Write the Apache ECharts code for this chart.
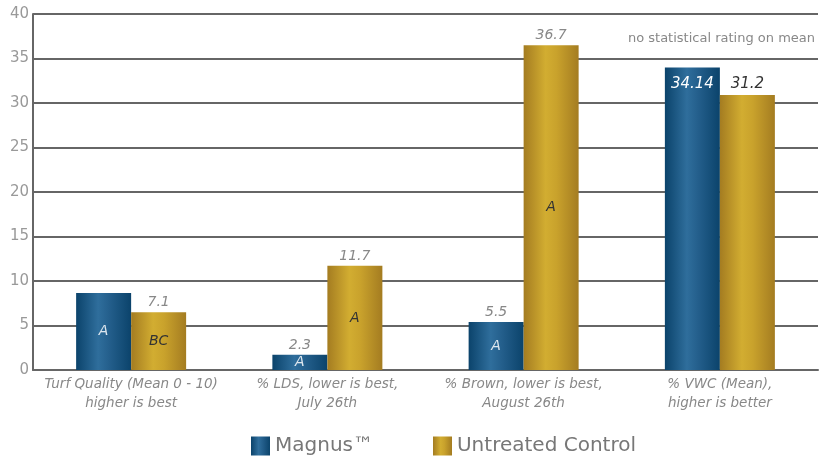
<!DOCTYPE html>
<html>
<head>
<meta charset="utf-8">
<script src="https://cdn.jsdelivr.net/npm/echarts@6/dist/echarts.min.js"></script>
<style>
  html, body { margin: 0; padding: 0; background: #fff; }
  #chart { width: 828px; height: 459px; }
</style>
</head>
<body>
<div id="chart"></div>
<script>
var categories = ['Turf Quality (Mean 0 - 10)\nhigher is best', '% LDS, lower is best,\nJuly 26th', '% Brown, lower is best,\nAugust 26th', '% VWC (Mean),\nhigher is better']
// bar heights as drawn
var magnus = [8.65, 1.7, 5.4, 34.0]
var untreated = [6.5, 11.7, 36.5, 30.9]
// printed values above the bars
var magnusTop = ['', '2.3', '5.5', '34.14']
var untreatedTop = ['7.1', '11.7', '36.7', '31.2']
// letter ratings inside the bars
var magnusLetter = ['A', 'A', 'A', '']
var untreatedLetter = ['BC', 'A', 'A', '']
var yTicks = [0, 5, 10, 15, 20, 25, 30, 35, 40]

var FONT = 'DejaVu Sans'
var blueGrad = new echarts.graphic.LinearGradient(0, 0, 1, 0, [
	{ offset: 0, color: '#0b436b' },
	{ offset: 0.4, color: '#2f6e9c' },
	{ offset: 0.6, color: '#245f8c' },
	{ offset: 1, color: '#0b436b' }
])
var goldGrad = new echarts.graphic.LinearGradient(0, 0, 1, 0, [
	{ offset: 0, color: '#a47c21' },
	{ offset: 0.4, color: '#d2ad31' },
	{ offset: 0.6, color: '#c9a22c' },
	{ offset: 1, color: '#a47c21' }
])

var myChart = echarts.init(document.getElementById('chart'))

var zeros = categories.map(function () { return 0 })

var option = {
	backgroundColor: '#fff',
	animation: false,
	title: {
		text: 'no statistical rating on mean',
		right: 8,
		top: 27,
		textStyle: { color: '#888', fontSize: 13, fontWeight: 'normal', fontFamily: FONT }
	},
	legend: {
		top: 431,
		left: 246,
		icon: 'rect',
		itemWidth: 19,
		itemHeight: 19,
		itemGap: 60,
		data: ['Magnus™', 'Untreated Control'],
		textStyle: { color: '#777', fontSize: 20, fontFamily: FONT }
	},
	grid: { left: 33, right: 10, top: 14, bottom: 89 },
	xAxis: {
		type: 'category',
		data: categories,
		axisLine: { lineStyle: { color: '#666', width: 2 } },
		axisTick: { show: false },
		axisLabel: {
			interval: 0,
			color: '#888',
			fontSize: 13.5,
			fontStyle: 'italic',
			fontFamily: FONT,
			lineHeight: 19,
			margin: 5
		}
	},
	yAxis: {
		type: 'value',
		min: yTicks[0],
		max: yTicks[yTicks.length - 1],
		interval: 5,
		axisLine: { show: true, lineStyle: { color: '#666', width: 2 } },
		axisTick: { show: false },
		axisLabel: { color: '#999', fontSize: 15, fontFamily: FONT, margin: 4 },
		splitLine: { lineStyle: { color: '#666', width: 2 } }
	},
	series: [
		{
			name: 'Magnus™',
			type: 'bar',
			stack: 'm',
			barWidth: 55,
			itemStyle: { color: blueGrad },
			label: {
				show: true,
				position: 'inside',
				color: '#dde6ee',
				fontSize: 14,
				fontStyle: 'italic',
				fontFamily: FONT,
				formatter: function (p) { return magnusLetter[p.dataIndex] }
			},
			data: magnus.map(function (v, i) {
				if (i === 3) {
					return { value: v, label: { position: 'insideTop', distance: 9, color: '#fff', fontSize: 15, formatter: magnusTop[i] } }
				}
				return v
			})
		},
		{
			name: 'Magnus™',
			type: 'bar',
			stack: 'm',
			barWidth: 55,
			itemStyle: { color: 'transparent' },
			label: {
				show: true,
				position: 'top',
				distance: 3,
				color: '#888',
				fontSize: 14,
				fontStyle: 'italic',
				fontFamily: FONT,
				formatter: function (p) { return p.dataIndex === 3 ? '' : magnusTop[p.dataIndex] }
			},
			data: zeros
		},
		{
			name: 'Untreated Control',
			type: 'bar',
			stack: 'u',
			barWidth: 55,
			barGap: 0,
			itemStyle: { color: goldGrad },
			label: {
				show: true,
				position: 'inside',
				color: '#333',
				fontSize: 14,
				fontStyle: 'italic',
				fontFamily: FONT,
				formatter: function (p) { return untreatedLetter[p.dataIndex] }
			},
			data: untreated
		},
		{
			name: 'Untreated Control',
			type: 'bar',
			stack: 'u',
			barWidth: 55,
			barGap: 0,
			itemStyle: { color: 'transparent' },
			label: {
				show: true,
				position: 'top',
				distance: 3,
				color: '#888',
				fontSize: 14,
				fontStyle: 'italic',
				fontFamily: FONT,
				formatter: function (p) { return untreatedTop[p.dataIndex] }
			},
			data: zeros.map(function (v, i) {
				if (i === 3) return { value: v, label: { color: '#333', fontSize: 15 } }
				return v
			})
		}
	]
}

myChart.setOption(option, true)
</script>
</body>
</html>
